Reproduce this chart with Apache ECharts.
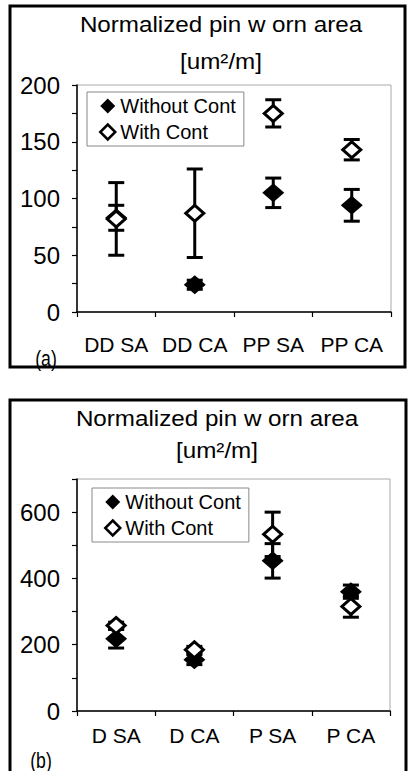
<!DOCTYPE html>
<html>
<head>
<meta charset="utf-8">
<script src="https://cdn.jsdelivr.net/npm/echarts@6/dist/echarts.min.js"></script>
<style>html,body{margin:0;padding:0;background:#fff;}#c{width:409px;height:771px;}</style>
</head>
<body>
<div id="c"></div>
<script>
const catsA = ['DD SA', 'DD CA', 'PP SA', 'PP CA'];
const withoutA = [83, 24, 105, 94];
const withoutErrA = [11, 4, 13, 14];
const withA = [82, 87, 175, 143];
const withErrA = [32, 39, 12, 9];
const yTicksA = [0, 50, 100, 150, 200];

const catsB = ['D SA', 'D CA', 'P SA', 'P CA'];
const withoutB = [218, 155, 453, 360];
const withoutErrB = [28, 15, 52, 20];
const withB = [258, 185, 533, 315];
const withErrB = [10, 10, 67, 32];
const yTicksB = [0, 200, 400, 600];

const titleLine1 = 'Normalized pin w orn area';
const titleLine2 = '[um²/m]';
const seriesNames = ['Without Cont', 'With Cont'];

const FONT = 'Liberation Sans';

function errRender(params, api) {
  const x = api.value(0), lo = api.value(1), hi = api.value(2);
  const p1 = api.coord([x, hi]);
  const p2 = api.coord([x, lo]);
  const hw = 8;
  const st = { stroke: '#000', lineWidth: 3 };
  return {
    type: 'group',
    children: [
      { type: 'line', shape: { x1: p1[0], y1: p1[1], x2: p2[0], y2: p2[1] }, style: st },
      { type: 'line', shape: { x1: p1[0] - hw, y1: p1[1], x2: p1[0] + hw, y2: p1[1] }, style: st },
      { type: 'line', shape: { x1: p2[0] - hw, y1: p2[1], x2: p2[0] + hw, y2: p2[1] }, style: st }
    ]
  };
}

function errData(vals, errs) {
  return vals.map((v, i) => [i, v - errs[i], v + errs[i]]);
}

function xAxisCfg(cats, gridIndex, margin) {
  return {
    type: 'category', gridIndex: gridIndex, data: cats,
    axisLine: { lineStyle: { color: '#000', width: 1.5 } },
    axisTick: { show: true, length: 5, lineStyle: { color: '#000', width: 1.2 } },
    axisLabel: { color: '#000', fontSize: 21, fontFamily: FONT, margin: margin, interval: 0 },
    splitLine: { show: false }
  };
}

function yAxisCfg(gridIndex, max, interval, ticks) {
  return {
    type: 'value', gridIndex: gridIndex, min: 0, max: max, interval: interval,
    axisLine: { show: true, lineStyle: { color: '#000', width: 1.5 } },
    axisTick: { show: true, length: 5, lineStyle: { color: '#000', width: 1.2 } },
    axisLabel: {
      color: '#000', fontSize: 24, fontFamily: FONT, margin: 17,
      formatter: v => ticks.includes(v) ? String(v) : ''
    },
    splitLine: { show: false }
  };
}

function seriesFor(idx, withoutV, withoutE, withV, withE) {
  return [
    { type: 'custom', name: 'errWithout' + idx, xAxisIndex: idx, yAxisIndex: idx,
      renderItem: errRender, data: errData(withoutV, withoutE), encode: { x: 0, y: [1, 2] }, z: 2, silent: true },
    { type: 'custom', name: 'errWith' + idx, xAxisIndex: idx, yAxisIndex: idx,
      renderItem: errRender, data: errData(withV, withE), encode: { x: 0, y: [1, 2] }, z: 2, silent: true },
    { type: 'scatter', name: seriesNames[0], xAxisIndex: idx, yAxisIndex: idx,
      data: withoutV, symbol: 'diamond', symbolSize: [22, 19],
      itemStyle: { color: '#000', opacity: 1 }, z: 3 },
    { type: 'scatter', name: seriesNames[1], xAxisIndex: idx, yAxisIndex: idx,
      data: withV, symbol: 'diamond', symbolSize: [18, 16],
      itemStyle: { color: '#fff', borderColor: '#000', borderWidth: 3, opacity: 1 }, z: 4 }
  ];
}

function legendCfg(left, top) {
  return {
    orient: 'vertical', left: left, top: top,
    data: [
      { name: seriesNames[0], icon: 'diamond', itemStyle: { color: '#000', borderWidth: 0 } },
      { name: seriesNames[1], icon: 'diamond', itemStyle: { color: '#fff', borderColor: '#000', borderWidth: 2.5 } }
    ],
    itemWidth: 15, itemHeight: 15, itemGap: 6,
    padding: [4, 8, 4, 12],
    borderColor: '#888', borderWidth: 1, backgroundColor: '#fff',
    textStyle: { color: '#000', fontSize: 20, fontFamily: FONT },
    selectedMode: false
  };
}

function txt(text, x, y, size, sx) {
  return {
    type: 'text', x: x, y: y, z: 10, scaleX: sx || 1,
    style: { text: text, fill: '#000', fontSize: size, fontFamily: FONT,
      textAlign: 'center', textVerticalAlign: 'middle' }
  };
}

const chart = echarts.init(document.getElementById('c'), null, { renderer: 'svg' });
chart.setOption({
  animation: false,
  backgroundColor: '#fff',
  grid: [
    { left: 77, top: 85, right: 18, bottom: 459, show: true, borderColor: '#aaa', borderWidth: 1, backgroundColor: 'transparent' },
    { left: 77, top: 479, right: 19, bottom: 60, show: true, borderColor: '#aaa', borderWidth: 1, backgroundColor: 'transparent' }
  ],
  xAxis: [xAxisCfg(catsA, 0, 22), xAxisCfg(catsB, 1, 14)],
  yAxis: [yAxisCfg(0, 200, 25, yTicksA), yAxisCfg(1, 700, 100, yTicksB)],
  legend: [legendCfg(87, 92), legendCfg(92, 488)],
  series: [].concat(
    seriesFor(0, withoutA, withoutErrA, withA, withErrA),
    seriesFor(1, withoutB, withoutErrB, withB, withErrB)
  ),
  graphic: [
    { type: 'rect', shape: { x: 10, y: 6, width: 395, height: 361 }, style: { fill: 'none', stroke: '#000', lineWidth: 3 }, z: 10 },
    { type: 'rect', shape: { x: 10, y: 400, width: 396, height: 400 }, style: { fill: 'none', stroke: '#000', lineWidth: 3 }, z: 10 },
    txt(titleLine1, 221, 24, 22, 1.1),
    txt(titleLine2, 221, 61, 22, 1.1),
    txt(titleLine1, 217, 418, 22, 1.1),
    txt(titleLine2, 217, 450, 22, 1.1),
    txt('(a)', 46, 358, 22, 0.8),
    txt('(b)', 41, 760, 22, 0.8)
  ]
});
</script>
</body>
</html>
